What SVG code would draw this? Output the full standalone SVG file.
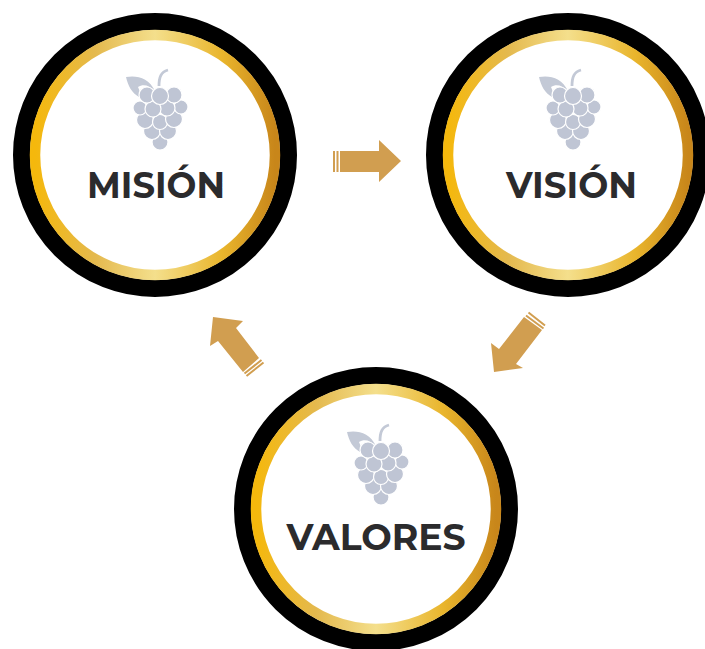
<svg xmlns="http://www.w3.org/2000/svg" width="705" height="649" viewBox="0 0 705 649">
<style>
.black{fill:none;stroke:#000;stroke-width:17}
.gold{fill:#fff;stroke:url(#g);stroke-width:10.500}
.lbl{font-family:"Montserrat","Inter","Liberation Sans",sans-serif;font-weight:700;font-size:36px;fill:#2b2b2d;text-anchor:middle}
.berry{fill:#bfc5d4;stroke:#fff;stroke-width:1.2}
.arrow{fill:#d19e50}
.tick{stroke:#d19e50;stroke-width:2;fill:none}
</style>
<defs>
<linearGradient id="g" x1="0" y1="0" x2="1" y2="0">
<stop offset="0" stop-color="#f5b80c"/>
<stop offset=".25" stop-color="#e4b94e"/>
<stop offset=".5" stop-color="#f4df8c"/>
<stop offset=".78" stop-color="#e9b52c"/>
<stop offset="1" stop-color="#c8861a"/>
</linearGradient>
<g id="grape">
<path d="M126 77C137 75 149 78 155 91C149 85 143 84 138 87C140 91 140 94 139 97C132 93 128 86 126 77Z" fill="#c3c9d6"/>
<path d="M159 86C159 77 161 72 168 70" fill="none" stroke="#c3c9d6" stroke-width="2.800"/>
<circle class="berry" cx="160" cy="142" r="8"/>
<circle class="berry" cx="152" cy="131" r="8.500"/>
<circle class="berry" cx="168" cy="131" r="8.500"/>
<circle class="berry" cx="145" cy="120" r="8.500"/>
<circle class="berry" cx="160" cy="122" r="7.500"/>
<circle class="berry" cx="174" cy="119" r="8.500"/>
<circle class="berry" cx="140" cy="108" r="7"/>
<circle class="berry" cx="181" cy="107" r="7"/>
<circle class="berry" cx="167" cy="108" r="8"/>
<circle class="berry" cx="153" cy="109" r="8"/>
<circle class="berry" cx="147" cy="95" r="8"/>
<circle class="berry" cx="174" cy="95" r="8"/>
<circle class="berry" cx="160" cy="96" r="8.500"/>
</g>
</defs>
<rect width="705" height="649" fill="#fff"/>
<g id="connectors">
<path class="arrow" d="M340 151H379V140L401 161L379 182V172H340Z"/>
<path class="tick" d="M334 151V172M337.500 151V172"/>
<path class="arrow" d="M524 317L499 349L491 343L494 372L523 368L516 364L542 330Z"/>
<path class="tick" d="M526 315.500L543.500 328.500M528.500 312.500L545 325.500"/>
<path class="arrow" d="M243 372L218 341L210 346L213 317L243 321L236 328L259 358Z"/>
<path class="tick" d="M244.500 373.500L261.500 360M246.500 376L263.500 362.500"/>
</g>
<g id="mision">
<circle class="black" cx="155" cy="155" r="133.500"/>
<circle class="gold" cx="155" cy="155" r="120"/>
<use href="#grape"/>
<text class="lbl" x="156" y="198" textLength="138" lengthAdjust="spacingAndGlyphs">MISIÓN</text>
</g>
<g id="vision">
<circle class="black" cx="568" cy="155" r="133.500"/>
<circle class="gold" cx="568" cy="155" r="120"/>
<use href="#grape" x="413"/>
<text class="lbl" x="571.500" y="198" textLength="131" lengthAdjust="spacingAndGlyphs">VISIÓN</text>
</g>
<g id="valores">
<circle class="black" cx="376" cy="509" r="133.500"/>
<circle class="gold" cx="376" cy="509" r="120"/>
<use href="#grape" x="221" y="355"/>
<text class="lbl" x="376" y="550" textLength="179" lengthAdjust="spacingAndGlyphs">VALORES</text>
</g>
</svg>
